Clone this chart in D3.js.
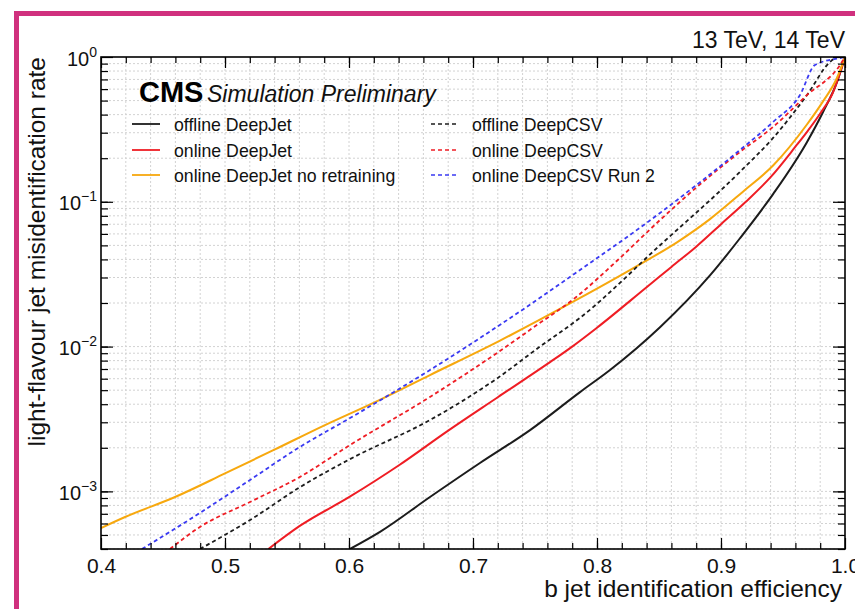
<!DOCTYPE html>
<html><head><meta charset="utf-8">
<script src="https://cdn.jsdelivr.net/npm/d3@7"></script>
<style>
body{margin:0;background:#fff;}
svg{display:block;font-family:"Liberation Sans",Arial,Helvetica,sans-serif;}
</style>
</head><body>
<svg id="chart" width="855" height="609"></svg>
<script>
// ---- data ----
const offlineDeepJetEff  = [0.6008,0.625,0.6653,0.7056,0.746,0.7863,0.8105,0.8508,0.8911,0.9153,0.942,0.9694,0.9823,0.9935,1.0];
const offlineDeepJetRate = [4.0e-4,5.25e-4,9.14e-4,1.57e-3,2.65e-3,4.85e-3,6.89e-3,1.36e-2,3.1e-2,5.6e-2,0.113,0.259,0.417,0.671,1.0];

const onlineDeepJetEff  = [0.535,0.56,0.60,0.64,0.68,0.72,0.76,0.78,0.80,0.84,0.86,0.88,0.90,0.92,0.94,0.96,0.97,0.98,0.99,1.0];
const onlineDeepJetRate = [4.0e-4,5.75e-4,9.12e-4,1.51e-3,2.63e-3,4.47e-3,7.59e-3,1.0e-2,1.35e-2,2.57e-2,3.55e-2,4.9e-2,7.0e-2,0.10,0.148,0.24,0.309,0.407,0.562,1.0];

const noRetrainEff  = [0.400,0.4194,0.4597,0.500,0.5403,0.5806,0.621,0.6653,0.7218,0.783,0.837,0.8645,0.8911,0.9177,0.942,0.969,0.982,0.9935,1.0];
const noRetrainRate = [5.58e-4,6.65e-4,9.14e-4,1.33e-3,1.95e-3,2.87e-3,4.14e-3,6.36e-3,1.10e-2,2.09e-2,3.80e-2,5.25e-2,7.59e-2,0.1175,0.178,0.339,0.49,0.716,1.0];

const offlineCSVEff  = [0.4798,0.5202,0.5605,0.6008,0.6653,0.7194,0.754,0.7863,0.8508,0.9153,0.942,0.9694,0.9879,0.994,1.0];
const offlineCSVRate = [4.0e-4,6.34e-4,1.07e-3,1.67e-3,3.11e-3,6.03e-3,1.0e-2,1.58e-2,5.01e-2,0.161,0.276,0.547,0.923,1.0,1.0];

const onlineCSVEff  = [0.4556,0.4798,0.5202,0.5605,0.6008,0.6653,0.7194,0.75,0.783,0.817,0.8508,0.8831,0.9153,0.942,0.9694,0.996,1.0];
const onlineCSVRate = [4.0e-4,5.68e-4,8.45e-4,1.26e-3,2.09e-3,4.49e-3,9.04e-3,1.38e-2,2.19e-2,3.98e-2,7.48e-2,0.132,0.221,0.329,0.547,0.881,1.0];

const run2CSVEff  = [0.4331,0.4798,0.5202,0.5605,0.6008,0.6653,0.7194,0.7863,0.8508,0.9153,0.942,0.9637,0.9758,0.996,1.0];
const run2CSVRate = [4.0e-4,7.10e-4,1.20e-3,2.03e-3,3.21e-3,6.89e-3,1.37e-2,3.38e-2,8.37e-2,0.228,0.356,0.547,0.881,0.984,1.0];

const seriesNames = ["offline DeepJet","online DeepJet","online DeepJet no retraining","offline DeepCSV","online DeepCSV","online DeepCSV Run 2"];
const xTickValues = [0.4,0.5,0.6,0.7,0.8,0.9,1.0];
const xTickLabels = ["0.4","0.5","0.6","0.7","0.8","0.9","1.0"];
const yTickValues = [1,0.1,0.01,0.001];
const yTickExponents = ["0","\u22121","\u22122","\u22123"];

// ---- layout ----
const L=101,R=845,T=57,B=549;
const svg=d3.select("#chart");
const x=d3.scaleLinear().domain([0.4,1.0]).range([L,R]);
const y=d3.scaleLog().domain([4e-4,1]).range([B,T]);

const series=[
 {name:seriesNames[0],eff:offlineDeepJetEff,rate:offlineDeepJetRate,color:"#1c1c1c",dash:null},
 {name:seriesNames[1],eff:onlineDeepJetEff,rate:onlineDeepJetRate,color:"#ef1d24",dash:null},
 {name:seriesNames[2],eff:noRetrainEff,rate:noRetrainRate,color:"#f7a80e",dash:null},
 {name:seriesNames[3],eff:offlineCSVEff,rate:offlineCSVRate,color:"#1c1c1c",dash:"4,3"},
 {name:seriesNames[4],eff:onlineCSVEff,rate:onlineCSVRate,color:"#ef1d24",dash:"4,3"},
 {name:seriesNames[5],eff:run2CSVEff,rate:run2CSVRate,color:"#3a3af2",dash:"4,3"}
];

// pink frame
svg.append("rect").attr("x",16.5).attr("y",13.5).attr("width",1000).attr("height",1000)
  .attr("fill","none").attr("stroke","#d0307e").attr("stroke-width",5);

// minor values
const xMinor=d3.range(0.42,0.99,0.02).map(v=>+v.toFixed(2));
const yMinor=[];
[1e-4,1e-3,1e-2,1e-1].forEach(d=>{for(let k=1;k<=9;k++){const v=d*k;if(v>=4e-4&&v<1)yMinor.push(v);}});

// grid
const grid=svg.append("g").attr("stroke","#d2d2d2").attr("stroke-width",1).attr("stroke-dasharray","2,2");
grid.selectAll("line.vx").data(xMinor).join("line").attr("x1",d=>x(d)).attr("x2",d=>x(d)).attr("y1",T).attr("y2",B);
grid.selectAll("line.hy").data(yMinor).join("line").attr("x1",L).attr("x2",R).attr("y1",d=>y(d)).attr("y2",d=>y(d));

// clip
svg.append("clipPath").attr("id","clip").append("rect").attr("x",L).attr("y",T).attr("width",R-L).attr("height",B-T);

// curves
const line=d3.line().x(d=>x(d[0])).y(d=>y(d[1])).curve(d3.curveMonotoneX);
const cg=svg.append("g").attr("clip-path","url(#clip)");
series.forEach(s=>{
  const pts=s.eff.map((e,i)=>[e,s.rate[i]]);
  cg.append("path").datum(pts).attr("d",line).attr("fill","none")
    .attr("stroke",s.color).attr("stroke-width",s.dash?1.8:2)
    .attr("stroke-dasharray",s.dash);
});

// axes (ticks inward, ROOT style)
function styleAxis(g){g.select(".domain").remove();g.selectAll(".tick line").attr("stroke","#000").attr("stroke-width",1.2);}
svg.append("g").attr("transform",`translate(0,${B})`).call(d3.axisBottom(x).tickValues(xMinor).tickSize(-6).tickFormat("")).call(styleAxis);
svg.append("g").attr("transform",`translate(0,${T})`).call(d3.axisTop(x).tickValues(xMinor).tickSize(-6).tickFormat("")).call(styleAxis);
svg.append("g").attr("transform",`translate(0,${T})`).call(d3.axisTop(x).tickValues(xTickValues).tickSize(-11).tickFormat("")).call(styleAxis);
const xb=svg.append("g").attr("transform",`translate(0,${B})`)
  .call(d3.axisBottom(x).tickValues(xTickValues).tickSize(-11).tickPadding(8).tickFormat((d,i)=>xTickLabels[i])).call(styleAxis);
xb.selectAll(".tick text").attr("font-size",21).attr("font-family","Liberation Sans, Arial, sans-serif").attr("fill","#111").attr("dy","0.75em");

svg.append("g").attr("transform",`translate(${L},0)`).call(d3.axisLeft(y).tickValues(yMinor).tickSize(-7).tickFormat("")).call(styleAxis);
svg.append("g").attr("transform",`translate(${R},0)`).call(d3.axisRight(y).tickValues(yMinor).tickSize(-7).tickFormat("")).call(styleAxis);
svg.append("g").attr("transform",`translate(${R},0)`).call(d3.axisRight(y).tickValues(yTickValues).tickSize(-12).tickFormat("")).call(styleAxis);
const yl=svg.append("g").attr("transform",`translate(${L},0)`)
  .call(d3.axisLeft(y).tickValues(yTickValues).tickSize(-12).tickFormat("")).call(styleAxis);
yl.selectAll(".tick").each(function(d,i){
  const t=d3.select(this).append("text").attr("x",-4).attr("y",8).attr("text-anchor","end")
    .attr("fill","#111").attr("font-family","Liberation Sans, Arial, sans-serif");
  t.append("tspan").attr("font-size",20).text("10");
  t.append("tspan").attr("font-size",14).attr("dy",-9).text(yTickExponents[i]);
});

// frame
svg.append("rect").attr("x",L).attr("y",T).attr("width",R-L).attr("height",B-T)
  .attr("fill","none").attr("stroke","#000").attr("stroke-width",1.6);

// titles
svg.append("text").attr("x",842).attr("y",597).attr("text-anchor","end").attr("font-size",24.5).attr("fill","#111")
  .text("b jet identification efficiency");
svg.append("text").attr("transform","translate(45,57) rotate(-90)").attr("text-anchor","end").attr("font-size",24.5).attr("fill","#111")
  .text("light-flavour jet misidentification rate");
svg.append("text").attr("x",845).attr("y",48).attr("text-anchor","end").attr("font-size",23).attr("fill","#111")
  .text("13 TeV, 14 TeV");
svg.append("text").attr("x",139).attr("y",102).attr("font-size",29).attr("font-weight","bold").attr("fill","#000").text("CMS");
svg.append("text").attr("x",207).attr("y",102).attr("font-size",23).attr("font-style","italic").attr("fill","#111").text("Simulation Preliminary");

// legend
const legRows=[124,150,175];
const legCols=[{lx:132,tx:174},{lx:431,tx:472}];
series.forEach((s,i)=>{
  const c=legCols[Math.floor(i/3)], ry=legRows[i%3];
  svg.append("line").attr("x1",c.lx).attr("x2",c.lx+28).attr("y1",ry).attr("y2",ry)
    .attr("stroke",s.color).attr("stroke-width",s.dash?1.6:1.8).attr("stroke-dasharray",s.dash);
  svg.append("text").attr("x",c.tx).attr("y",ry+7).attr("font-size",17.7).attr("fill","#111").text(s.name);
});
</script>
</body></html>
